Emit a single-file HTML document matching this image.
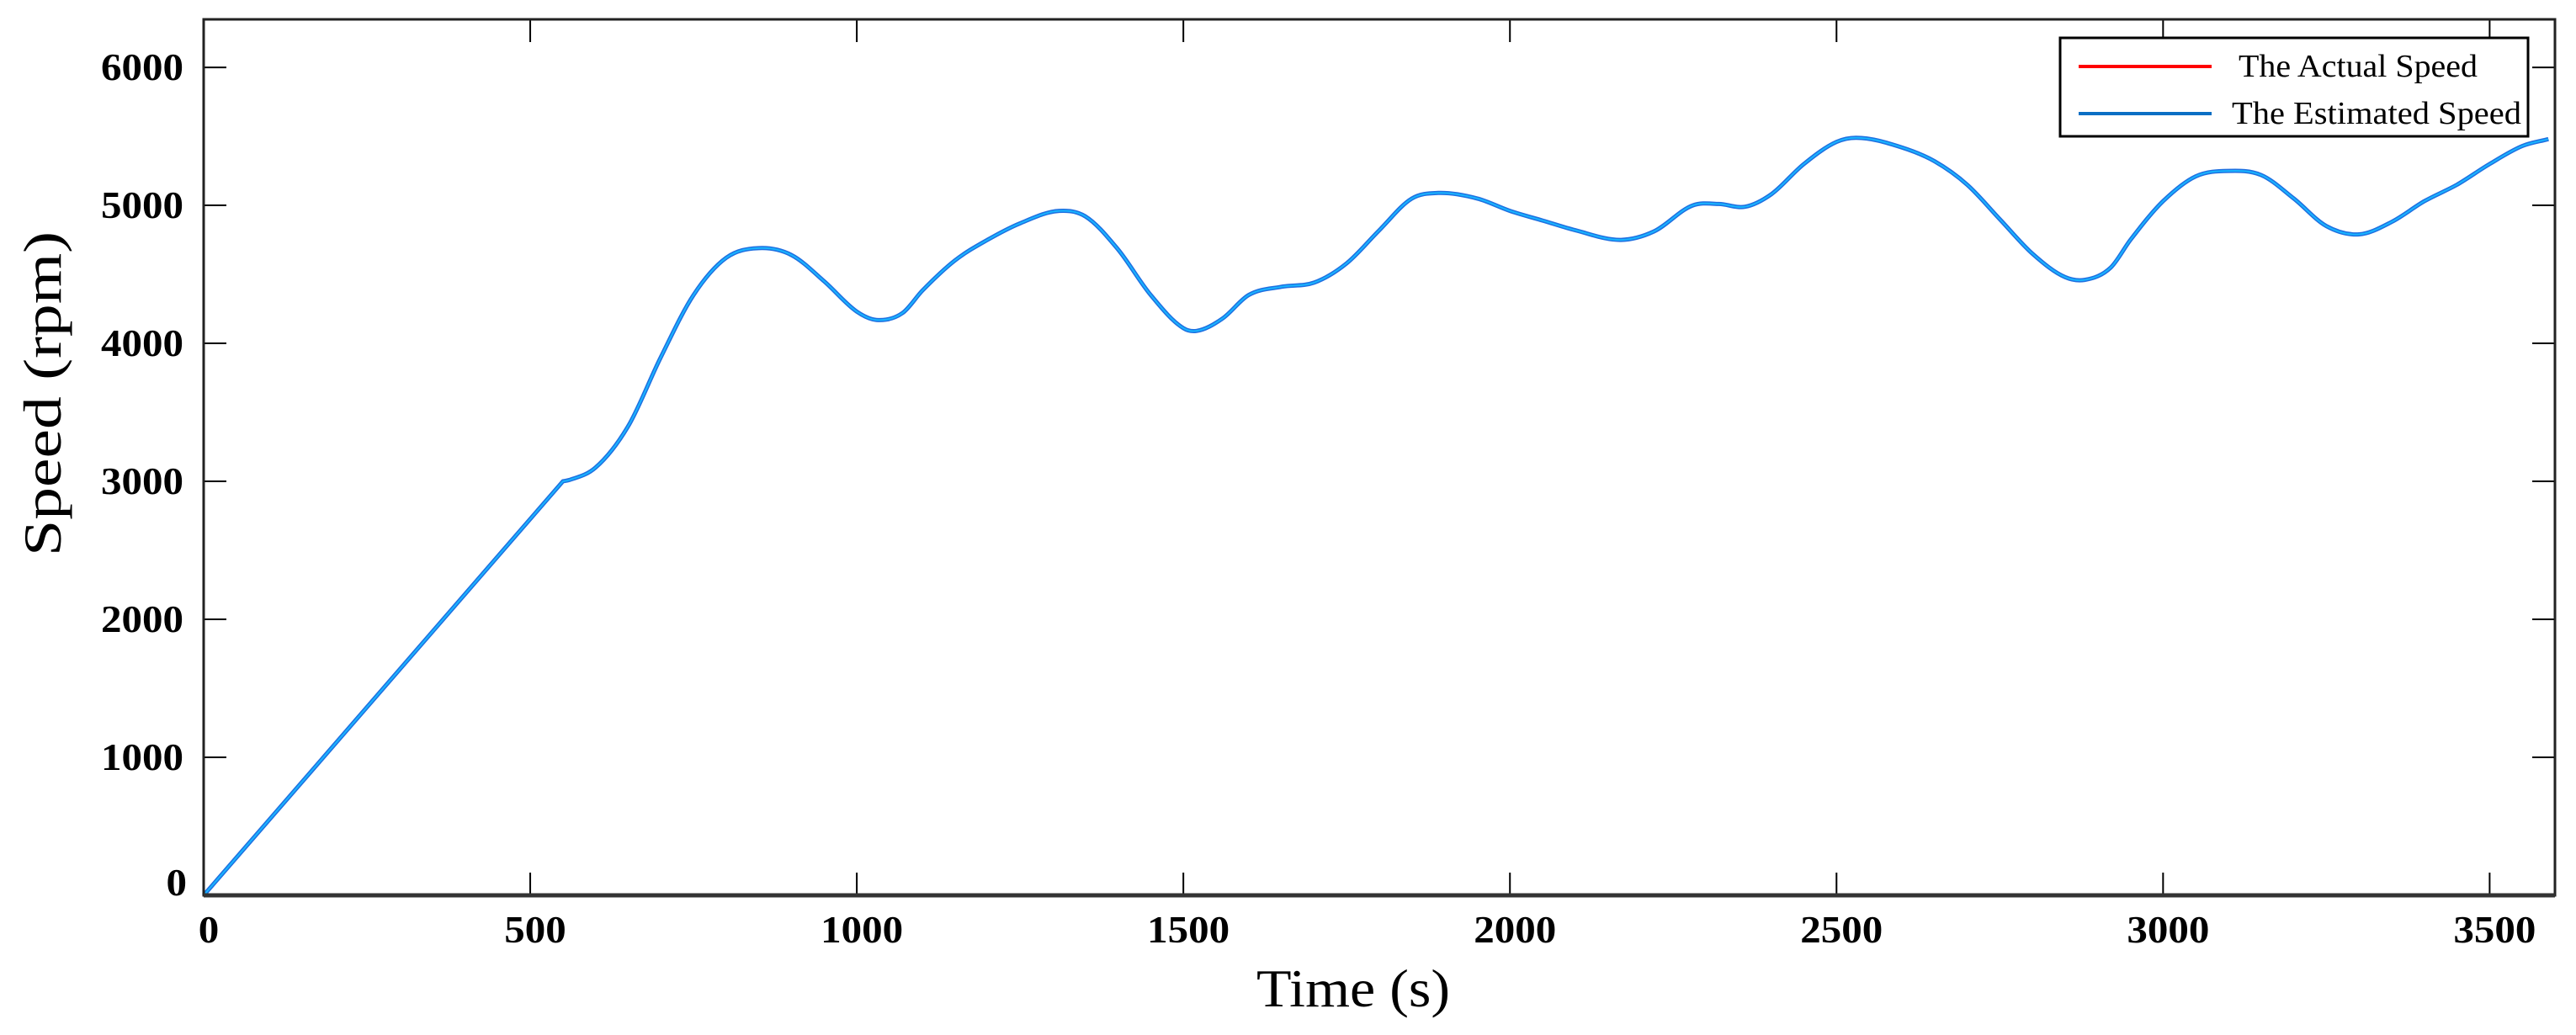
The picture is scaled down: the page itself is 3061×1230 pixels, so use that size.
<!DOCTYPE html>
<html><head><meta charset="utf-8"><style>
html,body{margin:0;padding:0;background:#fff;}
svg{display:block;font-family:"Liberation Serif",serif;}
</style></head><body>
<svg id="chart" width="3061" height="1230" viewBox="0 0 3061 1230" xmlns="http://www.w3.org/2000/svg">
<g id="plot"></g>
</svg>
<script>
const xTicks = [0,500,1000,1500,2000,2500,3000,3500];
const yTicks = [0,1000,2000,3000,4000,5000,6000];
const times = [0,550,560,600,650,700,750,800,850,900,950,1000,1030,1070,1100,1150,1200,1250,1310,1350,1400,1450,1500,1520,1560,1600,1650,1700,1750,1800,1850,1890,1950,2000,2050,2100,2170,2220,2280,2320,2360,2400,2450,2500,2530,2600,2650,2700,2750,2800,2850,2880,2920,2950,3000,3050,3100,3150,3200,3250,3300,3350,3400,3450,3500,3550,3590];
const actualSpeed = [0,3000,3010,3100,3400,3900,4350,4620,4690,4640,4450,4230,4170,4220,4380,4600,4750,4870,4960,4920,4680,4350,4110,4090,4180,4350,4410,4440,4580,4820,5050,5090,5050,4960,4890,4820,4750,4810,5000,5010,4990,5080,5300,5460,5490,5420,5320,5150,4900,4650,4480,4460,4550,4750,5030,5210,5250,5220,5050,4850,4790,4880,5030,5150,5300,5430,5480];
const estimatedSpeed = [0,3000,3010,3100,3400,3900,4350,4620,4690,4640,4450,4230,4170,4220,4380,4600,4750,4870,4960,4920,4680,4350,4110,4090,4180,4350,4410,4440,4580,4820,5050,5090,5050,4960,4890,4820,4750,4810,5000,5010,4990,5080,5300,5460,5490,5420,5320,5150,4900,4650,4480,4460,4550,4750,5030,5210,5250,5220,5050,4850,4790,4880,5030,5150,5300,5430,5480];

const L=242, R=3036, T=23, B=1064;
const XMAX=3600, YMAX=6348;
const sx = v => L + v/XMAX*(R-L);
const sy = v => B - v/YMAX*(B-T);
const NS="http://www.w3.org/2000/svg";
const svg=document.getElementById('chart');
function mk(tag, attrs, parent){const e=document.createElementNS(NS,tag);for(const k in attrs)e.setAttribute(k,attrs[k]);(parent||svg).appendChild(e);return e;}
function lenFor(s){return s.length*24.5;}

xTicks.forEach(t=>{
  const a=mk('line',{x1:sx(t),x2:sx(t),y1:B,y2:B-27,stroke:'#000','stroke-width':2});
  
  
  const b=mk('line',{x1:sx(t),x2:sx(t),y1:T,y2:T+27,stroke:'#000','stroke-width':2});
  
  
  const s=String(t);
  const tx=mk('text',{x:sx(t)+6,y:1120,'text-anchor':'middle','font-size':46,'font-weight':'bold',textLength:lenFor(s),lengthAdjust:'spacingAndGlyphs'});
  tx.textContent=s;
  
  
});
yTicks.forEach(v=>{
  const a=mk('line',{x1:L,x2:L+27,y1:sy(v),y2:sy(v),stroke:'#000','stroke-width':2});
  
  
  const b=mk('line',{x1:R,x2:R-27,y1:sy(v),y2:sy(v),stroke:'#000','stroke-width':2});
  
  
  const s=String(v);
  const tx=mk('text',{x:v===0?222:218,y:sy(v)+(v===0?0:15),'text-anchor':'end','font-size':46,'font-weight':'bold',textLength:lenFor(s),lengthAdjust:'spacingAndGlyphs'});
  tx.textContent=s;
  
  
});

function smoothPath(arr){
  const p=times.map((t,i)=>[sx(t),sy(arr[i])]);
  const n=p.length;
  const sec=[];
  for(let i=0;i<n-1;i++) sec.push((p[i+1][1]-p[i][1])/(p[i+1][0]-p[i][0]));
  const m=[];
  for(let i=0;i<n;i++){
    if(i===0) m.push(sec[0]);
    else if(i===n-1) m.push(sec[n-2]);
    else if(i===1) m.push(sec[1]); // kink at end of ramp
    else m.push((sec[i-1]+sec[i])/2);
  }
  let d='M'+p[0][0].toFixed(1)+','+p[0][1].toFixed(1);
  for(let i=0;i<n-1;i++){
    const dx=(p[i+1][0]-p[i][0])/3;
    const m1=(i===0)?sec[0]:m[i];
    const m2=(i===0)?sec[0]:m[i+1];
    d+=' C'+(p[i][0]+dx).toFixed(1)+','+(p[i][1]+m1*dx).toFixed(1)+' '+(p[i+1][0]-dx).toFixed(1)+','+(p[i+1][1]-m2*dx).toFixed(1)+' '+p[i+1][0].toFixed(1)+','+p[i+1][1].toFixed(1);
  }
  return d;
}
const red=mk('path',{d:smoothPath(actualSpeed),fill:'none',stroke:'#ff0000','stroke-width':4,'stroke-linejoin':'round'});


const blue=mk('path',{d:smoothPath(estimatedSpeed),fill:'none',stroke:'#1f6fe0','stroke-width':5,'stroke-linejoin':'round'});


const blue2=mk('path',{d:smoothPath(estimatedSpeed),fill:'none',stroke:'#18b4ff','stroke-width':2,'stroke-linejoin':'round'});



const fr=mk('rect',{x:L,y:T,width:R-L,height:B-T,fill:'none',stroke:'#222','stroke-width':3});


const base=mk('line',{x1:L,x2:R,y1:B,y2:B,stroke:'#333','stroke-width':5});



const xt=mk('text',{x:1608,y:1196,'text-anchor':'middle','font-size':64,textLength:230,lengthAdjust:'spacingAndGlyphs'});
xt.textContent='Time (s)';


const yt=mk('text',{x:0,y:0,'text-anchor':'middle','font-size':64,textLength:386,lengthAdjust:'spacingAndGlyphs',transform:'translate(72,468) rotate(-90)'});
yt.textContent='Speed (rpm)';



const lg=mk('g',{});


const box=mk('rect',{x:2448,y:45,width:556,height:117,fill:'#fff',stroke:'#000','stroke-width':3},lg);


const l1=mk('line',{x1:2470,x2:2628,y1:79,y2:79,stroke:'#ff0000','stroke-width':4},lg);


const t1=mk('text',{x:2660,y:91,'font-size':38,textLength:284,lengthAdjust:'spacingAndGlyphs'},lg);
t1.textContent='The Actual Speed';


const l2=mk('line',{x1:2470,x2:2628,y1:135,y2:135,stroke:'#0a6fc4','stroke-width':4},lg);


const t2=mk('text',{x:2652,y:147,'font-size':38,textLength:344,lengthAdjust:'spacingAndGlyphs'},lg);
t2.textContent='The Estimated Speed';


</script>
</body></html>
